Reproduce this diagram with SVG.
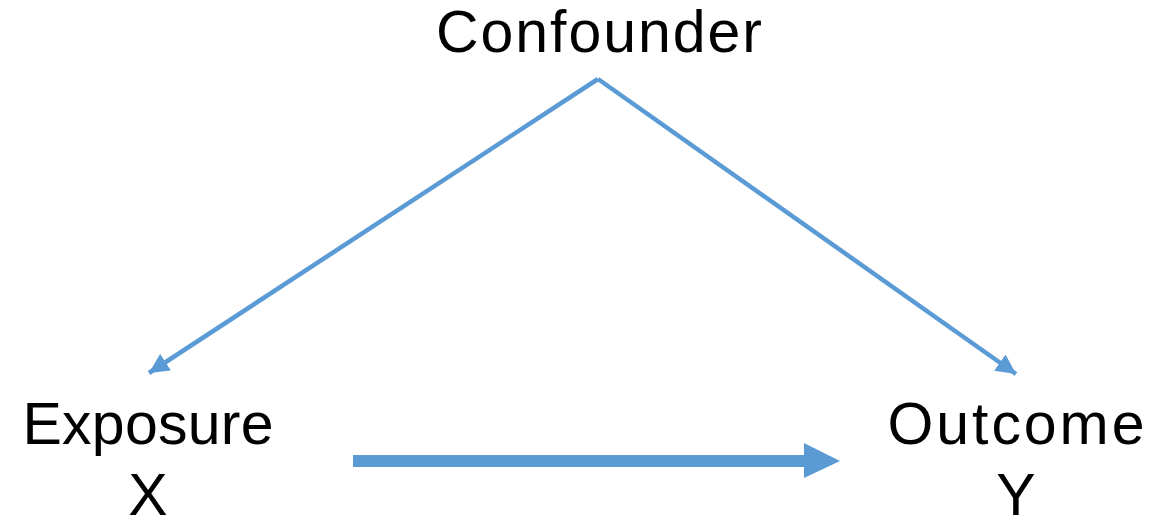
<svg xmlns="http://www.w3.org/2000/svg" width="1160" height="526" viewBox="0 0 1160 526">
<style>
.t{font-family:"Liberation Sans",Arial,sans-serif;font-size:59px;fill:#000;text-anchor:middle}
.c{stroke:#5B9BD5;stroke-width:4.5;fill:none}
</style>
<defs>
<marker id="ah" viewBox="0 0 10 10" refX="10" refY="5" markerWidth="4.4" markerHeight="4.4" markerUnits="strokeWidth" orient="auto">
<path d="M0,0 L10,5 L0,10 Z" fill="#5B9BD5"/>
</marker>
</defs>
<rect width="1160" height="526" fill="#fff"/>
<g id="confounder"><text class="t" x="599" y="52" textLength="326" lengthAdjust="spacing">Confounder</text></g>
<g id="exposure"><text class="t" x="148" y="444" textLength="251" lengthAdjust="spacing">Exposure</text><text class="t" x="148" y="515">X</text></g>
<g id="outcome"><text class="t" x="1016" y="444" textLength="257" lengthAdjust="spacing">Outcome</text><text class="t" x="1016" y="515">Y</text></g>
<g id="connectors">
<path class="c" d="M598,79 L149,373" marker-end="url(#ah)"/>
<path class="c" d="M598,79 L1016,374" marker-end="url(#ah)"/>
<line x1="353" y1="461" x2="806" y2="461" stroke="#5B9BD5" stroke-width="12"/>
<polygon points="804,443 840,461 804,478" fill="#5B9BD5"/>
</g>
</svg>
